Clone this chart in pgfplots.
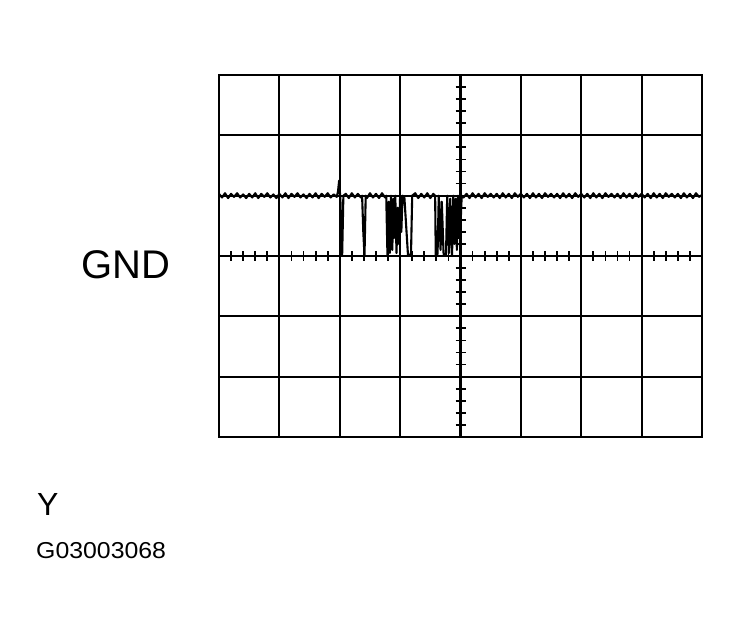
\documentclass[border=0pt]{standalone}
\usepackage{pgfplots}
\pgfplotsset{compat=1.18}
\usepackage{fontspec}
\setmainfont{Liberation Sans}
\begin{document}
\begin{tikzpicture}[x=1pt,y=1pt]
\useasboundingbox (0,0) rectangle (740,634);
\begin{axis}[at={(219pt,197pt)}, anchor=south west,
  width=483pt, height=362pt, scale only axis,
  xmin=0, xmax=8, ymin=-3, ymax=3,
  xtick={0,...,8}, ytick={-3,...,3},
  xticklabels={}, yticklabels={},
  major tick length=0pt,
  grid=major,
  grid style={black, line width=2.1pt},
  axis line style={black, line width=2.3pt},
  clip=false]
\addplot[black, line width=2.1pt, line join=round] coordinates {
(0,1.03)(0.05,0.97)(0.1,1.04)(0.15,0.96)(0.2,1.03)(0.25,0.98)(0.3,1.04)(0.35,0.97)(0.4,1.02)(0.45,0.96)
(0.5,1.03)(0.55,0.97)(0.6,1.04)(0.65,0.96)(0.7,1.03)(0.75,0.98)(0.8,1.04)(0.85,0.97)(0.9,1.02)(0.95,0.96)
(1.0,1.03)(1.05,0.97)(1.1,1.04)(1.15,0.96)(1.2,1.03)(1.25,0.98)(1.3,1.04)(1.35,0.97)(1.4,1.02)(1.45,0.96)
(1.5,1.03)(1.55,0.97)(1.6,1.04)(1.65,0.96)(1.7,1.03)(1.75,0.98)(1.8,1.04)(1.85,0.97)(1.9,1.02)(1.95,0.98)
(1.97,1.06)(1.99,1.25)(2.01,0.95)(2.03,0.3)(2.04,0.02)(2.05,0.5)(2.06,1.0)(2.1,1.03)
(2.15,0.96)(2.2,1.04)(2.25,0.97)(2.3,1.03)(2.35,0.97)
(2.37,1.0)(2.39,0.4)(2.41,0.0)(2.43,1.0)
(2.45,0.96)(2.5,1.04)(2.55,0.97)(2.6,1.03)(2.65,0.96)(2.7,1.04)(2.75,0.97)
(2.77,1.0)(2.79,0.02)(2.81,0.9)(2.83,0.05)(2.85,1.0)(2.87,0.1)(2.89,0.95)(2.90,0.3)(2.92,1.0)(2.94,0.05)
(2.96,0.8)(2.98,0.2)(3.00,1.0)(3.02,0.4)(3.04,1.0)(3.07,0.98)
(3.13,0.02)(3.18,0.02)(3.20,1.0)
(3.25,1.04)(3.3,0.96)(3.35,1.03)(3.4,0.97)(3.45,1.04)(3.5,0.96)(3.55,1.03)
(3.58,1.0)(3.59,0.02)(3.62,0.03)(3.64,1.0)(3.67,0.1)(3.69,0.9)(3.72,0.03)(3.76,0.02)(3.78,1.0)(3.81,0.05)
(3.83,0.95)(3.86,0.0)(3.88,1.0)(3.90,0.2)(3.92,0.95)(3.94,0.1)(3.96,1.0)(3.97,0.3)(3.99,1.0)(4.0,0.5)(4.02,1.0)
(4.05,0.97)(4.1,1.03)(4.15,0.96)(4.2,1.04)(4.25,0.97)(4.3,1.03)(4.35,0.96)(4.4,1.04)(4.45,0.98)(4.5,1.03)
(4.55,0.97)(4.6,1.03)(4.65,0.96)(4.7,1.04)(4.75,0.97)(4.8,1.03)(4.85,0.96)(4.9,1.04)(4.95,0.98)(5.0,1.03)
(5.05,0.97)(5.1,1.03)(5.15,0.96)(5.2,1.04)(5.25,0.97)(5.3,1.03)(5.35,0.96)(5.4,1.04)(5.45,0.98)(5.5,1.03)
(5.55,0.97)(5.6,1.03)(5.65,0.96)(5.7,1.04)(5.75,0.97)(5.8,1.03)(5.85,0.96)(5.9,1.04)(5.95,0.98)(6.0,1.03)
(6.05,0.97)(6.1,1.03)(6.15,0.96)(6.2,1.04)(6.25,0.97)(6.3,1.03)(6.35,0.96)(6.4,1.04)(6.45,0.98)(6.5,1.03)
(6.55,0.97)(6.6,1.03)(6.65,0.96)(6.7,1.04)(6.75,0.97)(6.8,1.03)(6.85,0.96)(6.9,1.04)(6.95,0.98)(7.0,1.03)
(7.05,0.97)(7.1,1.03)(7.15,0.96)(7.2,1.04)(7.25,0.97)(7.3,1.03)(7.35,0.96)(7.4,1.04)(7.45,0.98)(7.5,1.03)
(7.55,0.97)(7.6,1.03)(7.65,0.96)(7.7,1.04)(7.75,0.97)(7.8,1.03)(7.85,0.96)(7.9,1.04)(7.95,0.98)(8.0,1.01)
};
\end{axis}
% centre-line graticule ticks
\foreach \i in {1,...,39} \draw[line width=1.8pt] ({219+\i*60.375/5},373) -- ({219+\i*60.375/5},383);
\foreach \i in {1,...,29} \draw[line width=1.8pt] (455.5,{197+\i*362/30}) -- (465.5,{197+\i*362/30});
\node[inner sep=0pt, anchor=base west, font=\fontsize{40}{42}\selectfont] at (81,355) {GND};
\node[inner sep=0pt, anchor=base west, font=\fontsize{32}{34}\selectfont] at (37,118) {Y};
\node[inner sep=0pt, anchor=base west, font=\fontsize{23}{25}\selectfont] at (36,75) {\scalebox{1.08}[1]{G03003068}};
\end{tikzpicture}
\end{document}
